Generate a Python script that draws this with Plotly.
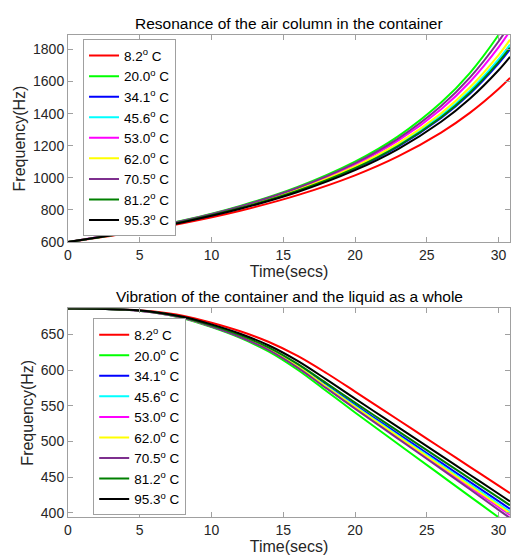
import plotly.graph_objects as go
from plotly.subplots import make_subplots

# ---------------- data ----------------
labels = ["8.2<sup>o</sup> C", "20.0<sup>o</sup> C", "34.1<sup>o</sup> C", "45.6<sup>o</sup> C",
          "53.0<sup>o</sup> C", "62.0<sup>o</sup> C", "70.5<sup>o</sup> C", "81.2<sup>o</sup> C",
          "95.3<sup>o</sup> C"]
colors = ["#ff0000", "#00ff00", "#0000ff", "#00ffff", "#ff00ff", "#ffff00", "#7e2f8e", "#008000", "#000000"]

# top panel: resonance of the air column
t_top = [0, 4, 8, 12, 16, 20, 23, 26, 28, 30, 30.8]
air_8_2 = [600, 653.5, 717.4, 795.2, 892.1, 1015.6, 1133.4, 1282.1, 1404.8, 1553.6, 1623]
air_20_0 = [600, 660.1, 733.5, 825.3, 943.4, 1100.9, 1258.5, 1468.8, 1652.9, 1889.8, 2004.7]
air_34_1 = [600, 656.9, 725.7, 810.6, 918.0, 1058.2, 1195.1, 1372.7, 1523.6, 1711.8, 1800]
air_45_6 = [600, 657.4, 727.0, 813.0, 922.0, 1065.0, 1205.0, 1387.5, 1543.4, 1738.6, 1831]
air_53_0 = [600, 658.8, 730.3, 819.2, 932.8, 1083.0, 1231.8, 1427.9, 1597.4, 1812.7, 1916.0]
air_62_0 = [600, 657.9, 728.2, 815.2, 925.9, 1071.4, 1214.6, 1401.9, 1562.5, 1764.7, 1861.0]
air_70_5 = [600, 659.4, 731.9, 822.2, 938.0, 1091.7, 1244.7, 1447.6, 1624.1, 1849.6, 1958.4]
air_81_2 = [600, 657.1, 726.1, 811.4, 919.3, 1060.4, 1198.4, 1377.6, 1530.1, 1720.7, 1811]
air_95_3 = [600, 656.1, 723.7, 806.8, 911.5, 1047.5, 1179.4, 1349.4, 1492.8, 1670.4, 1754]

# bottom panel: vibration of container + liquid
t_bot = [0, 2, 4, 6, 8, 10, 12, 14, 16, 18, 20, 22, 24, 26, 28, 30, 30.8]
vib_8_2 = [686.5, 686.3, 685.2, 682.2, 676.3, 666.5, 654.5, 639.5, 620.0, 596.0, 570.0, 543.6, 517.2, 490.8, 464.4, 438.0, 427.4]
vib_20_0 = [686.5, 686.2, 684.8, 680.7, 672.8, 660.3, 645.2, 626.0, 600.6, 570.8, 540.7, 511.1, 481.7, 452.4, 423.0, 393.6, 381.9]
vib_34_1 = [686.5, 686.3, 684.9, 681.2, 674.0, 662.3, 648.2, 630.5, 607.0, 579.0, 551.2, 524.2, 497.2, 470.2, 443.2, 416.2, 405.4]
vib_45_6 = [686.5, 686.3, 684.9, 681.1, 673.8, 661.9, 647.7, 629.7, 605.8, 577.5, 549.5, 522.1, 494.6, 467.2, 439.8, 412.4, 401.4]
vib_53_0 = [686.5, 686.2, 684.8, 681.0, 673.5, 661.4, 646.8, 628.4, 604.0, 575.3, 546.9, 519.1, 491.3, 463.6, 435.8, 408.0, 396.9]
vib_62_0 = [686.5, 686.3, 684.9, 681.1, 673.7, 661.7, 647.4, 629.2, 605.2, 576.7, 548.4, 520.8, 493.2, 465.6, 438.0, 410.5, 399.4]
vib_70_5 = [686.5, 686.2, 684.8, 680.9, 673.4, 661.2, 646.5, 628.0, 603.5, 574.7, 546.1, 517.9, 489.7, 461.6, 433.0, 404.0, 392.5]
vib_81_2 = [686.5, 686.3, 684.9, 681.3, 674.3, 662.9, 649.1, 631.7, 608.8, 581.8, 554.5, 527.8, 501.1, 474.5, 447.8, 421.1, 410.4]
vib_95_3 = [686.5, 686.3, 685.0, 681.7, 675.0, 664.2, 651.1, 634.6, 613.0, 587.1, 560.1, 533.4, 506.7, 480.0, 453.3, 426.6, 415.9]

top_series = [air_8_2, air_20_0, air_34_1, air_45_6, air_53_0, air_62_0, air_70_5, air_81_2, air_95_3]
bot_series = [vib_8_2, vib_20_0, vib_34_1, vib_45_6, vib_53_0, vib_62_0, vib_70_5, vib_81_2, vib_95_3]

top_yticks = [600, 800, 1000, 1200, 1400, 1600, 1800]
bot_yticks = [400, 450, 500, 550, 600, 650]
xticks = [0, 5, 10, 15, 20, 25, 30]

# ---------------- figure ----------------
FONT = "Liberation Sans, Arial, sans-serif"
fig = make_subplots(rows=2, cols=1, vertical_spacing=0.138)

for name, col, y in zip(labels, colors, top_series):
    fig.add_trace(go.Scatter(x=t_top, y=y, mode="lines", name=name, legend="legend",
                             line=dict(color=col, width=2, shape="spline")), row=1, col=1)
for name, col, y in zip(labels, colors, bot_series):
    fig.add_trace(go.Scatter(x=t_bot, y=y, mode="lines", name=name, legend="legend2",
                             line=dict(color=col, width=2, shape="spline")), row=2, col=1)

axis_common = dict(showline=True, mirror="ticks", linecolor="#a0a0a0", linewidth=1,
                   ticks="inside", ticklen=5, tickcolor="#a0a0a0", showgrid=False, zeroline=False,
                   automargin=False,
                   tickfont=dict(family=FONT, size=14, color="#262626"))
title_font = dict(family=FONT, size=16, color="#262626")

fig.update_xaxes(range=[0, 30.8], tickvals=xticks, **axis_common)
fig.update_xaxes(title=dict(text="Time(secs)", font=title_font, standoff=2), row=1, col=1)
fig.update_xaxes(title=dict(text="Time(secs)", font=title_font, standoff=2), row=2, col=1)
fig.update_yaxes(**axis_common)
fig.update_yaxes(range=[600, 1890], tickvals=top_yticks, row=1, col=1,
                 title=dict(text="Frequency(Hz)", font=title_font, standoff=3))
fig.update_yaxes(range=[394, 686.5], tickvals=bot_yticks, row=2, col=1,
                 title=dict(text="Frequency(Hz)", font=title_font, standoff=3))

fig.update_layout(
    xaxis=dict(domain=[0, 1]), xaxis2=dict(domain=[0, 1]),
    yaxis=dict(domain=[0.5705, 1.0]), yaxis2=dict(domain=[0.0, 0.4326]),
)

legend_common = dict(bgcolor="white", bordercolor="#a0a0a0", borderwidth=1,
                     font=dict(family=FONT, size=13.5, color="#000000"),
                     xanchor="left", yanchor="top", itemwidth=30, tracegroupgap=0)

fig.update_layout(
    width=511, height=557,
    margin=dict(l=68, r=1, t=35, b=40, autoexpand=False),
    plot_bgcolor="white", paper_bgcolor="white",
    font=dict(family=FONT, size=14, color="#262626"),
    legend=dict(x=0.034, y=0.991, **legend_common),
    legend2=dict(x=0.057, y=0.412, **legend_common),
    annotations=[
        dict(text="Resonance of the air column in the container", xref="paper", yref="paper",
             x=0.5, y=1.0, yshift=1, xanchor="center", yanchor="bottom", showarrow=False,
             font=dict(family=FONT, size=15.5, color="#000000")),
        dict(text="Vibration of the container and the liquid as a whole", xref="paper", yref="paper",
             x=0.5, y=0.4326, yshift=1, xanchor="center", yanchor="bottom", showarrow=False,
             font=dict(family=FONT, size=15.5, color="#000000")),
    ],
)

fig.write_html("out.html", config={"displayModeBar": False},
               post_script="document.body.style.margin='0';")
